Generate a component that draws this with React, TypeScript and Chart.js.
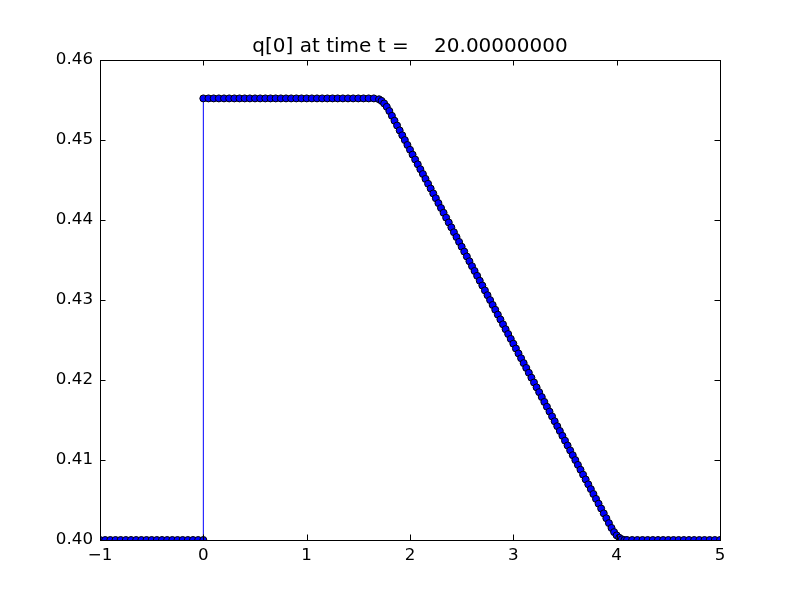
import React, { useEffect, useRef } from "react";
import { Chart, registerables } from "chart.js";

Chart.register(...registerables);

const TITLE = "q[0] at time t =    20.00000000";

// Coarse patch left of the jump (q = 0.40)
const leftX = [-1.0, -0.95, -0.9, -0.85, -0.8, -0.75, -0.7, -0.65, -0.6, -0.55, -0.5, -0.45, -0.4, -0.35, -0.3, -0.25, -0.2, -0.15, -0.1, -0.05, 0.0];
const leftY = [0.4, 0.4, 0.4, 0.4, 0.4, 0.4, 0.4, 0.4, 0.4, 0.4, 0.4, 0.4, 0.4, 0.4, 0.4, 0.4, 0.4, 0.4, 0.4, 0.4, 0.4];

// Coarse patch on the plateau
const plateauX = [0.0, 0.05, 0.1, 0.15, 0.2, 0.25, 0.3, 0.35, 0.4, 0.45, 0.5, 0.55, 0.6, 0.65, 0.7, 0.75, 0.8, 0.85, 0.9, 0.95, 1.0, 1.05, 1.1, 1.15, 1.2, 1.25, 1.3, 1.35, 1.4, 1.45, 1.5, 1.55, 1.6, 1.65, 1.7];
const plateauY = [0.4552, 0.4552, 0.4552, 0.4552, 0.4552, 0.4552, 0.4552, 0.4552, 0.4552, 0.4552, 0.4552, 0.4552, 0.4552, 0.4552, 0.4552, 0.4552, 0.4552, 0.4552, 0.4552, 0.4552, 0.4552, 0.4552, 0.4552, 0.4552, 0.4552, 0.4552, 0.4552, 0.4552, 0.4552, 0.4552, 0.4552, 0.4552, 0.4552, 0.4552, 0.45509];

// Fine patch over the ramp
const rampX = [1.725, 1.75, 1.775, 1.8, 1.825,
  1.85, 1.875, 1.9, 1.925, 1.95, 1.975, 2.0, 2.025, 2.05, 2.075, 2.1, 2.125, 2.15, 2.175, 2.2, 2.225, 2.25, 2.275, 2.3, 2.325, 2.35, 2.375, 2.4, 2.425, 2.45, 2.475,
  2.5, 2.525, 2.55, 2.575, 2.6, 2.625, 2.65, 2.675, 2.7, 2.725, 2.75, 2.775, 2.8, 2.825, 2.85, 2.875, 2.9, 2.925, 2.95, 2.975,
  3.0, 3.025, 3.05, 3.075, 3.1, 3.125, 3.15, 3.175, 3.2, 3.225, 3.25, 3.275, 3.3, 3.325, 3.35, 3.375, 3.4, 3.425, 3.45, 3.475,
  3.5, 3.525, 3.55, 3.575, 3.6, 3.625, 3.65, 3.675, 3.7, 3.725, 3.75, 3.775, 3.8, 3.825, 3.85, 3.875, 3.9, 3.925,
  3.95, 3.975, 4.0, 4.025, 4.05, 4.075];
const rampY = [0.45489, 0.45457, 0.45415, 0.45362, 0.45302,
  0.45241, 0.45181, 0.4512, 0.45059, 0.44999, 0.44938, 0.44878, 0.44817, 0.44756, 0.44696, 0.44635, 0.44575, 0.44514, 0.44453, 0.44393, 0.44332, 0.44272, 0.44211, 0.4415, 0.4409, 0.44029, 0.43969, 0.43908, 0.43847, 0.43787, 0.43726,
  0.43666, 0.43605, 0.43544, 0.43484, 0.43423, 0.43363, 0.43302, 0.43241, 0.43181, 0.4312, 0.4306, 0.42999, 0.42938, 0.42878, 0.42817, 0.42757, 0.42696, 0.42635, 0.42575, 0.42514,
  0.42454, 0.42393, 0.42332, 0.42272, 0.42211, 0.42151, 0.4209, 0.42029, 0.41969, 0.41908, 0.41848, 0.41787, 0.41726, 0.41666, 0.41605, 0.41545, 0.41484, 0.41423, 0.41363, 0.41302,
  0.41242, 0.41181, 0.4112, 0.4106, 0.40999, 0.40939, 0.40878, 0.40817, 0.40757, 0.40696, 0.40636, 0.40575, 0.40514, 0.40454, 0.40393, 0.40333, 0.40272, 0.40211,
  0.40151, 0.40099, 0.40058, 0.40028, 0.40009, 0.4];

// Coarse patch right of the ramp
const rightX = [4.1, 4.15, 4.2, 4.25, 4.3, 4.35, 4.4, 4.45, 4.5, 4.55, 4.6, 4.65, 4.7, 4.75, 4.8, 4.85, 4.9, 4.95, 5.0];
const rightY = [0.4, 0.4, 0.4, 0.4, 0.4, 0.4, 0.4, 0.4, 0.4, 0.4, 0.4, 0.4, 0.4, 0.4, 0.4, 0.4, 0.4, 0.4, 0.4];

const xTicks = [-1, 0, 1, 2, 3, 4, 5];
const yTicks = [0.4, 0.41, 0.42, 0.43, 0.44, 0.45, 0.46];

const FONT = "'DejaVu Sans', sans-serif";

const frameTicksPlugin = {
  id: "frameTicks",
  afterDatasetsDraw(chart: any) {
    const { ctx, chartArea, scales } = chart;
    const { left, right, top, bottom } = chartArea;
    const len = 5.5;
    ctx.save();
    ctx.strokeStyle = "#000";
    ctx.lineWidth = 1;
    ctx.beginPath();
    xTicks.forEach((v) => {
      const px = Math.round(scales.x.getPixelForValue(v)) + 0.5;
      ctx.moveTo(px, bottom);
      ctx.lineTo(px, bottom - len);
      ctx.moveTo(px, top);
      ctx.lineTo(px, top + len);
    });
    yTicks.forEach((v) => {
      const py = Math.round(scales.y.getPixelForValue(v)) + 0.5;
      ctx.moveTo(left, py);
      ctx.lineTo(left + len, py);
      ctx.moveTo(right, py);
      ctx.lineTo(right - len, py);
    });
    ctx.stroke();
    ctx.strokeRect(left + 0.5, top + 0.5, right - left, bottom - top);
    ctx.fillStyle = "#000";
    ctx.font = `20px ${FONT}`;
    ctx.textAlign = "center";
    ctx.textBaseline = "alphabetic";
    ctx.fillText(TITLE, (left + right) / 2, top - 8);
    ctx.restore();
  },
};

export default function App() {
  const ref = useRef<HTMLCanvasElement | null>(null);
  useEffect(() => {
    if (!ref.current) return;
    const xs = [...leftX, ...plateauX, ...rampX, ...rightX];
    const ys = [...leftY, ...plateauY, ...rampY, ...rightY];
    const data = xs.map((x, i) => ({ x, y: ys[i] }));
    const chart = new Chart(ref.current, {
      type: "scatter",
      data: {
        datasets: [
          {
            data,
            showLine: true,
            borderColor: "#0000ff",
            borderWidth: 1,
            pointRadius: 3.5,
            pointBackgroundColor: "#0000ff",
            pointBorderColor: "#000000",
            pointBorderWidth: 1,
            clip: 0,
          } as any,
        ],
      },
      options: {
        responsive: false,
        animation: false,
        devicePixelRatio: 1,
        layout: { padding: { top: 60, right: 80, left: 0, bottom: 0 } },
        plugins: { legend: { display: false }, tooltip: { enabled: false }, title: { display: false } },
        scales: {
          x: {
            type: "linear",
            min: -1,
            max: 5,
            afterBuildTicks: (s: any) => { s.ticks = xTicks.map((v) => ({ value: v })); },
            afterFit: (s: any) => { s.height = 60; },
            grid: { display: false, drawTicks: false },
            border: { display: false },
            ticks: {
              padding: 6,
              color: "#000",
              font: { family: FONT, size: 16.7 },
              callback: (v: any) => (v < 0 ? "\u2212" + Math.abs(v) : String(v)),
            },
          },
          y: {
            type: "linear",
            min: 0.4,
            max: 0.46,
            afterBuildTicks: (s: any) => { s.ticks = yTicks.map((v) => ({ value: v })); },
            afterFit: (s: any) => { s.width = 100; },
            grid: { display: false, drawTicks: false },
            border: { display: false },
            ticks: {
              padding: 7,
              color: "#000",
              font: { family: FONT, size: 16.7 },
              callback: (v: any) => Number(v).toFixed(2),
            },
          },
        },
      },
      plugins: [frameTicksPlugin],
    });
    return () => chart.destroy();
  }, []);
  return (
    <div style={{ position: "absolute", left: 0, top: 0, width: 800, height: 600, background: "#fff" }}>
      <canvas ref={ref} width={800} height={600} />
    </div>
  );
}
